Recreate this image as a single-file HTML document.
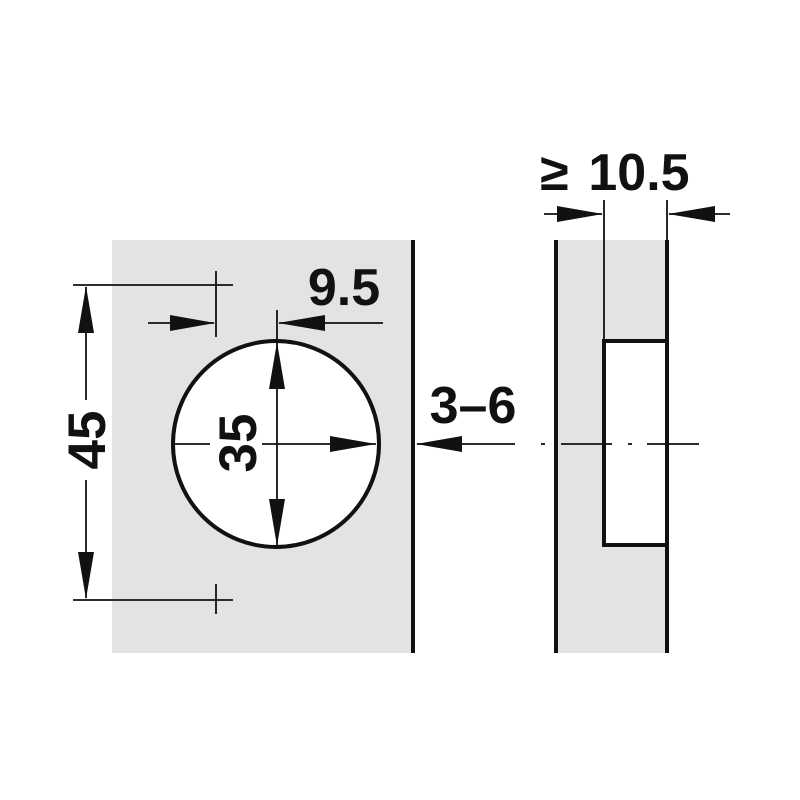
<!DOCTYPE html>
<html><head><meta charset="utf-8"><style>html,body{margin:0;padding:0;background:#fff}svg{display:block}text{font-family:"Liberation Sans",sans-serif;font-weight:bold;fill:#111}</style></head>
<body>
<svg width="800" height="800" viewBox="0 0 800 800" xmlns="http://www.w3.org/2000/svg">
<rect x="112" y="240" width="301" height="413" fill="#e2e3e5"/>
<line x1="413" y1="240" x2="413" y2="653" stroke="#111" stroke-width="4"/>
<circle cx="276" cy="444" r="103" fill="#fff" stroke="#111" stroke-width="4"/>
<g stroke="#111" stroke-width="1.8" fill="none">
<line x1="73" y1="285" x2="233" y2="285"/>
<line x1="73" y1="600" x2="233" y2="600"/>
<line x1="216" y1="271" x2="216" y2="337"/>
<line x1="216" y1="584" x2="216" y2="614"/>
<line x1="86" y1="287" x2="86" y2="400"/>
<line x1="86" y1="480" x2="86" y2="598"/>
<line x1="148" y1="323" x2="214" y2="323"/>
<line x1="277" y1="310" x2="277" y2="546"/>
<line x1="279" y1="323" x2="383" y2="323"/>
<line x1="174" y1="444" x2="210" y2="444"/>
<line x1="262" y1="444" x2="376" y2="444"/>
<line x1="417" y1="444" x2="515" y2="444"/>
</g>
<g fill="#111">
<polygon points="86,286 78,333 94,333"/>
<polygon points="86,599 78,552 94,552"/>
<polygon points="215,323 170,315 170,331"/>
<polygon points="278,323 325,315 325,331"/>
<polygon points="277,342 269,389 285,389"/>
<polygon points="277,546 269,499 285,499"/>
<polygon points="376,444 330,436 330,452"/>
<polygon points="416,444 462,436 462,452"/>
</g>
<text x="344" y="305" font-size="52" text-anchor="middle">9.5</text>
<text x="473" y="423" font-size="52" text-anchor="middle">3–6</text>
<text transform="translate(105,440) rotate(-90)" font-size="53" text-anchor="middle">45</text>
<text transform="translate(256,443) rotate(-90)" font-size="53" text-anchor="middle">35</text>
<!-- right side -->
<rect x="556" y="240" width="111" height="413" fill="#e2e3e5"/>
<rect x="604" y="341" width="63" height="204" fill="#fff" stroke="#111" stroke-width="4"/>
<g stroke="#111" fill="none">
<line x1="556" y1="240" x2="556" y2="653" stroke-width="4"/>
<line x1="667" y1="240" x2="667" y2="653" stroke-width="4"/>
<line x1="604" y1="200" x2="604" y2="341" stroke-width="1.8"/>
<line x1="667" y1="200" x2="667" y2="240" stroke-width="1.8"/>
<line x1="544" y1="214" x2="602" y2="214" stroke-width="1.8"/>
<line x1="669" y1="214" x2="730" y2="214" stroke-width="1.8"/>
<line x1="541" y1="444" x2="545" y2="444" stroke-width="1.8"/>
<line x1="561" y1="444" x2="612" y2="444" stroke-width="1.8"/>
<line x1="628" y1="444" x2="632" y2="444" stroke-width="1.8"/>
<line x1="647" y1="444" x2="699" y2="444" stroke-width="1.8"/>
</g>
<g fill="#111">
<polygon points="603,214 557,206 557,222"/>
<polygon points="668,214 715,206 715,222"/>
</g>
<text x="540" y="190" font-size="52">≥</text>
<text x="639" y="190" font-size="52" text-anchor="middle">10.5</text>
</svg>
</body></html>
